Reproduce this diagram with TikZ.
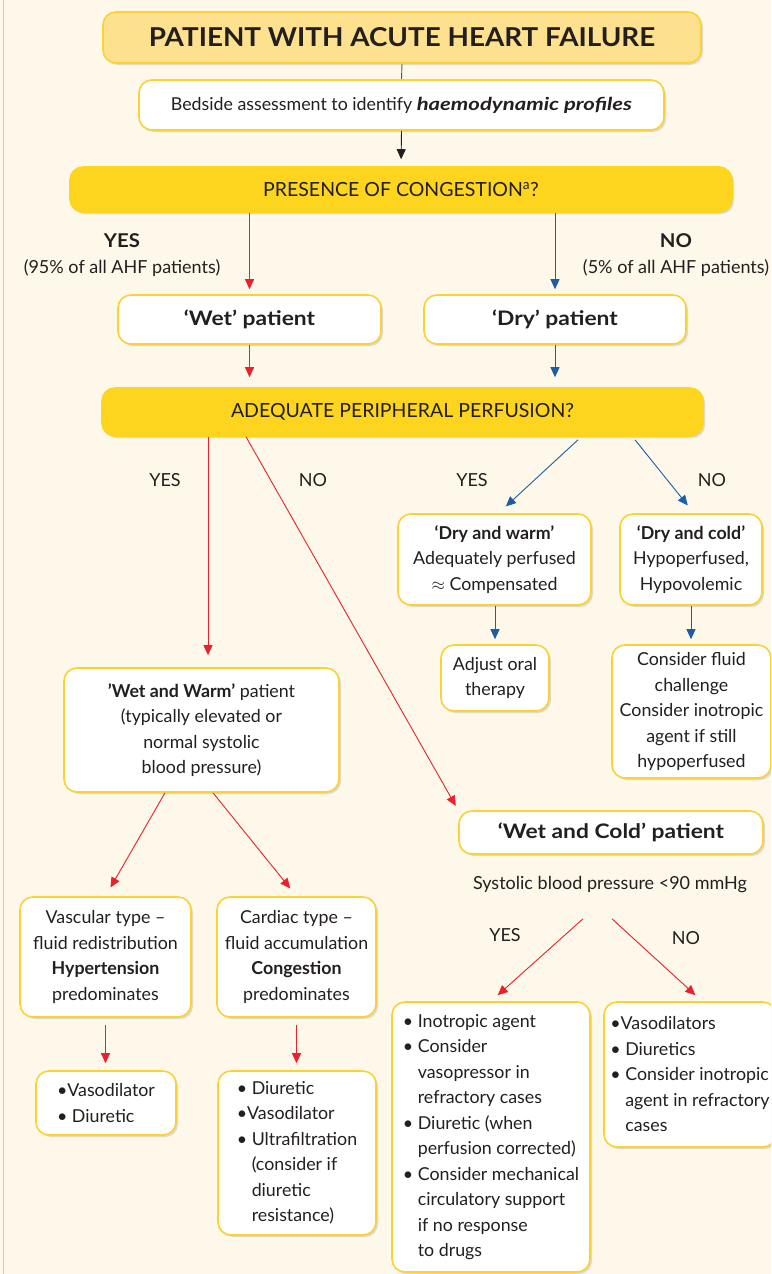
\documentclass[tikz,border=0pt]{standalone}
\usepackage{fontspec}
\setmainfont{Lato}
\usetikzlibrary{arrows.meta,shadows}
\definecolor{bg}{HTML}{FDF8E9}
\definecolor{gold}{HTML}{FAD234}
\definecolor{goldfill}{HTML}{FDD51F}
\definecolor{titlefill}{HTML}{FDE18F}
\definecolor{txt}{HTML}{231F20}
\definecolor{ared}{HTML}{E8212B}
\definecolor{ablue}{HTML}{1C5DA7}
\definecolor{agray}{HTML}{555555}
\newcommand{\heavy}[1]{{\bfseries\addfontfeatures{FakeStretch=#1}}}
\begin{document}
\begin{tikzpicture}[x=1pt,y=-1pt,
  every node/.style={text=txt},
  box/.style={draw=gold, line width=1.6pt, fill=white, rounded corners=13pt, align=center, inner sep=0pt,
    font=\fontsize{17.8}{25.5}\selectfont,
    drop shadow={shadow xshift=2pt,shadow yshift=-2pt,opacity=0.12,fill=black}},
  gbox/.style={box, fill=goldfill, draw=goldfill, font=\fontsize{19.5}{22}\selectfont},
  hbox/.style={box, font=\bfseries\fontsize{20}{22}\selectfont\addfontfeatures{FakeStretch=1.14}},
  lbl/.style={font=\fontsize{18}{22}\selectfont},
  blbl/.style={font=\bfseries\fontsize{19}{22}\selectfont\addfontfeatures{FakeStretch=1.07}},
  tip/.style={-{Triangle[length=10pt,width=9pt]}},
  redarr/.style={draw=ared, line width=0.9pt, tip},
  bluearr/.style={draw=ablue, line width=0.9pt, tip},
  blkarr/.style={draw=txt, line width=0.9pt, tip},
]
\useasboundingbox (0,0) rectangle (771,1274);
\clip (0,0) rectangle (771,1274);
\fill[bg] (0,0) rectangle (771,1274);
\draw[gold, line width=1pt] (3,0) -- (3,1274);

% nodes
\node[box, fill=titlefill, minimum width=598, minimum height=51, font=\bfseries\fontsize{26}{28}\selectfont\addfontfeatures{FakeStretch=1.07}] (title) at (402,37.5) {PATIENT WITH ACUTE HEART FAILURE};
\node[box, minimum width=525, minimum height=50] (bed) at (401.5,105) {Bedside assessment to identify {\bfseries\itshape\addfontfeatures{FakeStretch=1.24}haemodynamic profiles}};
\node[gbox, minimum width=662, minimum height=45] (cong) at (401,189.5) {PRESENCE OF CONGESTION\textsuperscript{a}?};

\node[blbl] (yes1) at (122,241) {YES};
\node[lbl] (yes1p) at (122,268) {(95\% of all AHF patients)};
\node[blbl] (no1) at (676,241) {NO};
\node[lbl] (no1p) at (676,268) {(5\% of all AHF patients)};

\node[hbox, minimum width=263, minimum height=49] (wet) at (249.5,319.5) {‘Wet’ patient};
\node[hbox, minimum width=262, minimum height=49] (dry) at (555,319.5) {‘Dry’ patient};

\node[gbox, minimum width=601, minimum height=48] (perf) at (402.5,412) {ADEQUATE PERIPHERAL PERFUSION?};

\node[lbl] (yes2) at (165,480) {YES};
\node[lbl] (no2) at (313,480) {NO};
\node[lbl] (yes3) at (472,480) {YES};
\node[lbl] (no3) at (712,480) {NO};

\node[box, minimum width=193, minimum height=91] (dw) at (494.5,559.5) {\textbf{‘Dry and warm’}\\Adequately perfused\\$\approx$ Compensated};
\node[box, minimum width=142, minimum height=91] (dc) at (691,559.5) {\textbf{‘Dry and cold’}\\Hypoperfused,\\Hypovolemic};
\node[box, minimum width=108, minimum height=66] (adj) at (495,678) {Adjust oral\\therapy};
\node[box, minimum width=159, minimum height=133] (fluid) at (691.5,711.5) {Consider fluid\\challenge\\Consider inotropic\\agent if still\\hypoperfused};

\node[box, minimum width=275, minimum height=124] (ww) at (201.5,730) {\textbf{’Wet and Warm’} patient\\(typically elevated or\\normal systolic\\blood pressure)};
\node[box, minimum width=171, minimum height=120] (vasc) at (105.5,957) {Vascular type –\\fluid redistribution\\\textbf{Hypertension}\\predominates};
\node[box, minimum width=159, minimum height=120] (card) at (296.5,957) {Cardiac type –\\fluid accumulation\\\textbf{Congestion}\\predominates};
\node[box, minimum width=140, minimum height=64, align=left] (vdl) at (106,1103) {\textbullet Vasodilator\\\textbullet\ Diuretic};
\node[box, minimum width=158, minimum height=164, align=left] (diu) at (297,1153) {\textbullet\ Diuretic\\\textbullet Vasodilator\\\textbullet\ Ultrafiltration\\\phantom{\textbullet\ }(consider if\\\phantom{\textbullet\ }diuretic\\\phantom{\textbullet\ }resistance)};

\node[hbox, minimum width=304, minimum height=43] (wc) at (611,832.5) {‘Wet and Cold’ patient};
\node[lbl] (sbp) at (610,885) {Systolic blood pressure <90 mmHg};
\node[lbl] (yes4) at (505,935) {YES};
\node[lbl] (no4) at (686,938) {NO};

\node[box, minimum width=198, minimum height=270, align=left] (ino) at (491,1137) {\textbullet\ Inotropic agent\\\textbullet\ Consider\\\phantom{\textbullet\ }vasopressor in\\\phantom{\textbullet\ }refractory cases\\\textbullet\ Diuretic (when\\\phantom{\textbullet\ }perfusion corrected)\\\textbullet\ Consider mechanical\\\phantom{\textbullet\ }circulatory support\\\phantom{\textbullet\ }if no response\\\phantom{\textbullet\ }to drugs};
\node[box, minimum width=172, minimum height=145, align=left] (vds) at (690,1074.5) {\textbullet Vasodilators\\\textbullet\ Diuretics\\\textbullet\ Consider inotropic\\\phantom{\textbullet\ }agent in refractory\\\phantom{\textbullet\ }cases};

% connectors
\draw[agray, line width=0.9pt] (title.south) -- (bed.north);
\draw[blkarr, shorten >=7pt] (bed.south) -- (cong.north);
\draw[redarr, shorten >=5pt] (cong.south -| wet.north) -- (wet.north);
\draw[bluearr, shorten >=5pt] (cong.south -| dry.north) -- (dry.north);
\draw[redarr, shorten >=10pt] (wet.south) -- (wet.south |- perf.north);
\draw[bluearr, shorten >=10pt] (dry.south) -- (dry.south |- perf.north);

\draw[redarr, shorten >=12pt] ([xshift=6.5pt]ww.north |- perf.south) -- ([xshift=6.5pt]ww.north);
\draw[redarr, shorten >=5pt] ([xshift=-156.5pt]perf.south) -- (wc.north west);
\draw[bluearr, shorten >=10pt] ([xshift=175.5pt,yshift=-3pt]perf.south) -- ([xshift=4pt]dw.north);
\draw[bluearr, shorten >=10pt] ([xshift=232.5pt,yshift=-3pt]perf.south) -- ([xshift=3pt]dc.north);

\draw[bluearr, shorten >=5pt] (dw.south -| adj.north) -- (adj.north);
\draw[bluearr, shorten >=5pt] (dc.south) -- (dc.south |- fluid.north);

\draw[redarr, shorten >=10pt] ([xshift=-36.5pt]ww.south) -- (vasc.north);
\draw[redarr, shorten >=10pt] ([xshift=11.5pt]ww.south) -- (card.north);
\draw[redarr, shorten <=7pt, shorten >=7pt] (vasc.south) -- (vasc.south |- vdl.north);
\draw[redarr, shorten <=7pt, shorten >=7pt] (card.south) -- (card.south |- diu.north);

\draw[redarr, shorten >=9pt] ([xshift=-27pt,yshift=-22pt]sbp.south) -- (ino.north);
\draw[redarr, shorten >=9pt] ([xshift=2pt,yshift=-22pt]sbp.south) -- ([xshift=12pt]vds.north);
\end{tikzpicture}
\end{document}
